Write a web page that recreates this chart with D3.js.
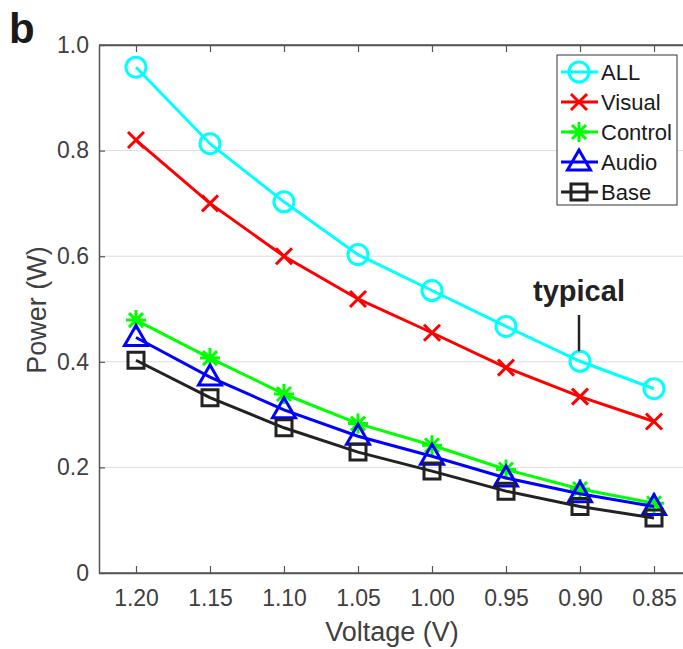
<!DOCTYPE html>
<html><head><meta charset="utf-8">
<script src="https://d3js.org/d3.v7.min.js"></script>
<style>body{margin:0;background:#fff;} text{font-family:"Liberation Sans",Arial,sans-serif;}</style>
</head><body><svg id="c" width="683" height="649"></svg>
<script>
const voltages = [1.20, 1.15, 1.10, 1.05, 1.00, 0.95, 0.90, 0.85];
const voltLabels = ["1.20","1.15","1.10","1.05","1.00","0.95","0.90","0.85"];
const yTicks = [0, 0.2, 0.4, 0.6, 0.8, 1.0];
const yTickLabels = ["0","0.2","0.4","0.6","0.8","1.0"];
const seriesNames = ["ALL","Visual","Control","Audio","Base"];
const allVals     = [0.958, 0.813, 0.703, 0.603, 0.535, 0.467, 0.401, 0.349];
const visualVals  = [0.820, 0.700, 0.600, 0.519, 0.455, 0.389, 0.334, 0.287];
const controlVals = [0.479, 0.407, 0.339, 0.283, 0.242, 0.196, 0.159, 0.132];
const audioVals   = [0.446, 0.371, 0.309, 0.259, 0.221, 0.180, 0.150, 0.126];
const baseVals    = [0.403, 0.332, 0.275, 0.229, 0.193, 0.155, 0.126, 0.104];
const colors  = ["#00FFFF","#FF0000","#00FF00","#0000FF","#222222"];
const markers = ["circle","x","star","triangle","square"];
const allSeries = [allVals, visualVals, controlVals, audioVals, baseVals];

const svg = d3.select("#c");
const L = 99, T = 45, B = 573;
const x = d3.scaleLinear().domain([1.225, 0.825]).range([L, L + 0.4*1480]);
const y = d3.scaleLinear().domain([0, 1]).range([B, T]);
const axisCol = "#555", textCol = "#404040";

// gridlines
svg.append("g").selectAll("line").data(yTicks.filter(t=>t>0 && t<1)).join("line")
  .attr("x1", L).attr("x2", 683).attr("y1", d=>y(d)).attr("y2", d=>y(d))
  .attr("stroke", "#dddddd").attr("stroke-width", 1);

// axes
const yAxis = d3.axisLeft(y).tickValues(yTicks).tickFormat((d,i)=>yTickLabels[i]).tickSizeInner(-6).tickSizeOuter(0).tickPadding(10);
const gy = svg.append("g").attr("transform", `translate(${L},0)`).call(yAxis);
const xAxis = d3.axisBottom(x).tickValues(voltages).tickFormat((d,i)=>voltLabels[i]).tickSizeInner(-7).tickSizeOuter(0).tickPadding(17);
const gx = svg.append("g").attr("transform", `translate(0,${B})`).call(xAxis);
const xTop = d3.axisTop(x).tickValues(voltages).tickFormat("").tickSizeInner(-7).tickSizeOuter(0);
const gt = svg.append("g").attr("transform", `translate(0,${T})`).call(xTop);
[gx, gy, gt].forEach(g => {
  g.select(".domain").attr("stroke", axisCol).attr("stroke-width", 1.5);
  g.selectAll(".tick line").attr("stroke", axisCol).attr("stroke-width", 1.2);
  g.selectAll(".tick text").attr("fill", textCol).style("font-size", "23px").style("font-family", '"Liberation Sans",Arial,sans-serif');
});
svg.append("line").attr("x1", L).attr("x2", 683).attr("y1", B).attr("y2", B).attr("stroke", axisCol).attr("stroke-width", 1.5);
svg.append("line").attr("x1", L).attr("x2", 683).attr("y1", T).attr("y2", T).attr("stroke", axisCol).attr("stroke-width", 1.5);

// axis labels
svg.append("text").attr("x", 392).attr("y", 641).attr("text-anchor", "middle")
  .attr("fill", textCol).style("font-size", "27px").text("Voltage (V)");
svg.append("text").attr("transform", "translate(46,310) rotate(-90)").attr("text-anchor", "middle")
  .attr("fill", textCol).style("font-size", "27px").text("Power (W)");

// panel letter
svg.append("text").attr("x", 9).attr("y", 43).attr("fill", "#1a1a1a")
  .style("font-size", "42px").style("font-weight", "bold").text("b");

function markerPath(type) {
  switch (type) {
    case "circle": { const p = d3.path(); p.moveTo(10,0); p.arc(0,0,10,0,2*Math.PI); return p.toString(); }
    case "x": return "M-8,-8L8,8M-8,8L8,-8";
    case "star": return "M0,-10L0,10M-10,0L10,0M-7,-7L7,7M-7,7L7,-7";
    case "triangle": return "M0,-12L11.5,8L-11.5,8Z";
    case "square": return "M-8,-8L8,-8L8,8L-8,8Z";
  }
}

const line = d3.line().x((d,i)=>x(voltages[i])).y(d=>y(d));
allSeries.forEach((vals, s) => {
  const g = svg.append("g");
  g.append("path").attr("d", line(vals)).attr("fill", "none")
    .attr("stroke", colors[s]).attr("stroke-width", 3);
  g.selectAll("path.m").data(vals).join("path").attr("class", "m")
    .attr("transform", (d,i)=>`translate(${x(voltages[i])},${y(d)})`)
    .attr("d", markerPath(markers[s])).attr("fill", "none")
    .attr("stroke", colors[s]).attr("stroke-width", 3);
});

// typical annotation
svg.append("line").attr("x1", x(0.90)-1).attr("x2", x(0.90)-1).attr("y1", 315).attr("y2", y(allVals[6]) - 10)
  .attr("stroke", "#222").attr("stroke-width", 2.5);
svg.append("text").attr("x", x(0.90)-1).attr("y", 301).attr("text-anchor", "middle")
  .attr("fill", "#222").style("font-size", "29px").style("font-weight", "bold").text("typical");

// legend
const lg = svg.append("g");
lg.append("rect").attr("x", 557).attr("y", 55).attr("width", 120).attr("height", 150)
  .attr("fill", "#fff").attr("stroke", "#333").attr("stroke-width", 1);
seriesNames.forEach((name, s) => {
  const yy = 72 + s*30;
  lg.append("line").attr("x1", 561).attr("x2", 598).attr("y1", yy).attr("y2", yy)
    .attr("stroke", colors[s]).attr("stroke-width", 3);
  lg.append("path").attr("transform", `translate(579,${yy})`).attr("d", markerPath(markers[s]))
    .attr("fill", "none").attr("stroke", colors[s]).attr("stroke-width", 3);
  lg.append("text").attr("x", 601).attr("y", yy + 8).attr("fill", "#1a1a1a")
    .style("font-size", "22px").text(name);
});
</script></body></html>
